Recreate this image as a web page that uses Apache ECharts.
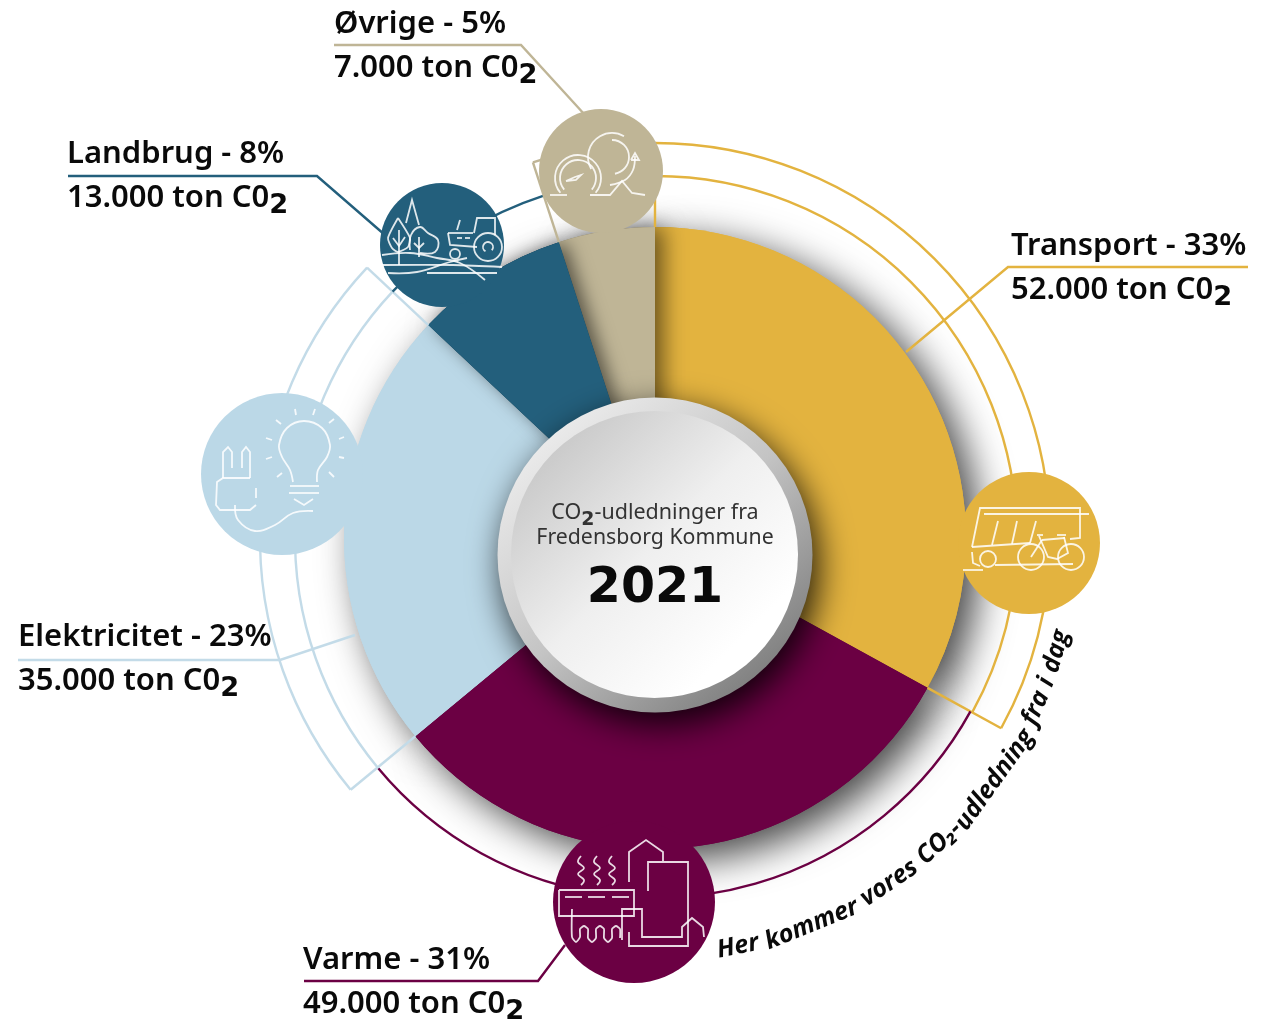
<!DOCTYPE html>
<html>
<head>
<meta charset="utf-8">
<style>
    html, body { margin: 0; padding: 0; background: #fff; }
    #main { width: 1273px; height: 1019px; }
</style>
<script src="https://cdn.jsdelivr.net/npm/echarts@6/dist/echarts.min.js"></script>
</head>
<body>
<div id="main"></div>
<script>
    // data
    var names = ['Transport', 'Varme', 'Elektricitet', 'Landbrug', 'Øvrige'];
    var percents = [33, 31, 23, 8, 5];
    var tonLabels = ['52.000', '49.000', '35.000', '13.000', '7.000'];
    var colors = ['#e3b33f', '#6b0043', '#bbd8e7', '#235f7c', '#bfb596'];
    var arcColors = ['#e3b33f', '#6b0043', '#c3dbe8', '#235f7c', '#bfb596'];

    var FONT = '"Noto Sans", sans-serif';
    var CX = 655, CY = 538, R = 311;

    // ring lines around each slice: radii, and which radial ends are drawn
    var ringRadii = [[362, 395], [360], [360, 395], [360], [395]];
    var ringEnds = [[true, true], [false, false], [true, true], [false, false], [true, false]];

    // label placement: text left, line 1 centre y, line 2 centre y, leader points
    var labelX = [1011, 303, 18, 67, 334];
    var labelY = [[245, 289], [959, 1003], [636, 680], [153, 197], [23, 67]];
    var leaders = [
        [[1248, 267], [1008, 267], [906, 352]],
        [[304, 981], [538, 981], [565, 945]],
        [[18, 660], [280, 660], [355, 635]],
        [[68, 176], [317, 176], [385, 235]],
        [[334, 45], [521, 45], [585, 115]]
    ];
    var iconCircles = [[1029, 543, 71], [634, 902, 81], [282, 474, 81], [442, 245, 62], [601, 171, 62]];

    var graphics = [];
    var zNow = 10;

    function polar(deg, r) {
        var a = (deg - 90) * Math.PI / 180;
        return [CX + r * Math.cos(a), CY + r * Math.sin(a)];
    }
    function lineEl(pts, color, width, smooth) {
        graphics.push({
            type: 'polyline', silent: true, z: zNow,
            shape: { points: pts, smooth: smooth || 0 },
            style: { stroke: color, lineWidth: width, fill: null }
        });
    }
    function arcEl(cx, cy, r, a0, a1, color, width) {
        graphics.push({
            type: 'arc', silent: true, z: zNow,
            shape: { cx: cx, cy: cy, r: r, startAngle: a0 * Math.PI / 180, endAngle: a1 * Math.PI / 180, clockwise: true },
            style: { stroke: color, lineWidth: width, fill: null }
        });
    }
    function circleEl(cx, cy, r, fill, stroke, width) {
        graphics.push({
            type: 'circle', silent: true, z: zNow,
            shape: { cx: cx, cy: cy, r: r },
            style: { fill: fill, stroke: stroke || null, lineWidth: width || 0 }
        });
    }

    // ring lines, worked out from the slice angles
    var total = 0, i;
    for (i = 0; i < percents.length; i++) total += percents[i];
    var angle = 0;
    for (i = 0; i < names.length; i++) {
        var next = angle + percents[i] / total * 360;
        ringRadii[i].forEach(function (r) {
            arcEl(CX, CY, r, angle - 90, next - 90, arcColors[i], 2.4);
        });
        var far = Math.max.apply(null, ringRadii[i]);
        if (ringEnds[i][0]) lineEl([polar(angle, R), polar(angle, far)], arcColors[i], 2.4);
        if (ringEnds[i][1]) lineEl([polar(next, R), polar(next, far)], arcColors[i], 2.4);
        angle = next;
    }

    // leaders
    zNow = 11;
    for (i = 0; i < leaders.length; i++) lineEl(leaders[i], arcColors[i], 2.4);

    // icon discs
    zNow = 12;
    for (i = 0; i < iconCircles.length; i++) circleEl(iconCircles[i][0], iconCircles[i][1], iconCircles[i][2], colors[i]);

    // line drawings inside the discs
    zNow = 13;
    var INK = 'rgba(255,255,255,0.85)';
    function ink(pts, smooth) { lineEl(pts, INK, 1.8, smooth); }
    function inkArc(cx, cy, r, a0, a1) { arcEl(cx, cy, r, a0, a1, INK, 1.8); }
    function inkCircle(cx, cy, r) { circleEl(cx, cy, r, 'transparent', INK, 1.8); }

    // transport
    ink([[972, 547], [980, 508], [1080, 508], [1080, 538], [1070, 539]]);
    ink([[984, 514], [1089, 514]]);
    ink([[998, 521], [992, 545]]); ink([[1017, 521], [1012, 544]]); ink([[1036, 521], [1030, 543]]);
    ink([[972, 547], [1030, 543]]);
    ink([[972, 552], [973, 563], [980, 566]]);
    inkCircle(988, 559, 8);
    ink([[995, 565], [1073, 564]]);
    ink([[963, 570], [983, 570]]);
    inkCircle(1031, 557, 13); inkCircle(1071, 557, 13);
    ink([[1037, 535], [1043, 535]]); ink([[1057, 535], [1066, 535]]);
    ink([[1039, 536], [1048, 557], [1057, 559], [1068, 553], [1064, 537]]);
    ink([[1042, 540], [1065, 538]]); ink([[1031, 557], [1042, 540]]);

    // varme
    [581, 597, 612].forEach(function (x) {
        ink([[x, 856], [x - 3, 862], [x + 3, 868], [x - 3, 874], [x + 3, 880], [x, 885]], 0.4);
    });
    ink([[559, 890], [634, 890], [634, 916], [559, 916], [559, 890]]);
    ink([[565, 897], [582, 897]]); ink([[588, 897], [605, 897]]); ink([[612, 897], [629, 897]]);
    ink([[572, 909], [572, 937], [576, 942], [580, 937], [580, 929], [584, 926], [588, 929], [588, 938], [592, 942], [596, 938], [596, 929], [600, 926], [604, 929], [604, 938], [608, 942], [612, 938], [612, 929], [616, 926], [620, 929], [620, 938]], 0.2);
    ink([[622, 940], [622, 909], [642, 909], [642, 937], [682, 937], [682, 927], [692, 918], [703, 927], [704, 937]]);
    ink([[629, 932], [629, 946], [688, 946], [688, 862], [648, 862], [648, 891]]);
    ink([[629, 882], [629, 852], [646, 840], [663, 852], [663, 861]]);

    // elektricitet
    ink([[293, 482], [290, 470], [282, 457], [279, 445], [287, 428], [304, 421], [322, 428], [330, 445], [327, 457], [318, 470], [317, 482]], 0.35);
    ink([[290, 486], [319, 486]]); ink([[289, 493], [319, 493]]);
    ink([[294, 499], [304, 505], [313, 499]]);
    [[295, 409, 296, 415], [315, 409, 313, 415], [276, 420, 281, 424], [334, 419, 329, 423], [266, 438, 272, 440],
     [344, 437, 339, 439], [266, 459, 272, 457], [344, 458, 339, 457], [277, 477, 282, 473], [334, 477, 329, 472]].forEach(function (s) {
        ink([[s[0], s[1]], [s[2], s[3]]]);
    });
    ink([[223, 478], [223, 452], [228, 447], [232, 452], [232, 468]]);
    ink([[242, 468], [242, 452], [246, 447], [250, 452], [250, 478]]);
    ink([[250, 478], [223, 478], [217, 482], [216, 505], [220, 510], [250, 510], [256, 505]]);
    ink([[256, 488], [256, 498]]);
    ink([[235, 505], [238, 520], [255, 531], [275, 525], [293, 513], [313, 511]], 0.4);

    // landbrug
    ink([[406, 223], [412, 200], [419, 225]]);
    ink([[398, 218], [388, 238], [392, 248], [398, 252], [408, 247], [410, 238], [398, 218]], 0.2);
    ink([[399, 230], [399, 265]]); ink([[393, 238], [399, 246], [405, 237]]);
    ink([[410, 250], [411, 235], [420, 227], [428, 233], [438, 240], [435, 252], [420, 253]], 0.4);
    ink([[419, 237], [419, 257]]); ink([[414, 243], [419, 248], [424, 243]]);
    ink([[382, 255], [410, 253], [437, 258], [460, 263], [485, 280]], 0.4);
    ink([[383, 265], [453, 265], [502, 267]], 0.3);
    ink([[388, 273], [417, 272], [450, 262], [467, 258]], 0.4);
    ink([[427, 273], [497, 273]]);
    inkCircle(488, 247, 14); inkArc(488, 247, 5, 120, 400);
    inkCircle(455, 254, 5);
    ink([[474, 233], [477, 218], [495, 218], [495, 235]]);
    ink([[448, 233], [473, 233]]); ink([[448, 233], [450, 245], [477, 247]]);
    ink([[460, 220], [457, 230]]);
    ink([[457, 238], [462, 238]]); ink([[465, 238], [470, 238]]);

    // øvrige
    inkArc(578, 178, 23, 140, 400); inkArc(578, 178, 18, 140, 400);
    ink([[550, 195], [567, 195]]); ink([[590, 195], [610, 195], [622, 181], [632, 193], [645, 195]]);
    ink([[566, 181], [575, 177], [581, 175], [576, 180], [566, 181]]);
    inkArc(612, 157, 24, 150, 300); inkArc(612, 157, 17, 270, 440);
    ink([[610, 185], [625, 180], [633, 170], [635, 156]], 0.4);
    ink([[631, 160], [635, 153], [639, 160], [631, 160]]);

    // centre disc
    zNow = 20;
    graphics.push({
        type: 'circle', silent: true, z: zNow,
        shape: { cx: 655, cy: 555, r: 157.5 },
        style: {
            fill: { type: 'linear', x: 0.15, y: 0.1, x2: 0.85, y2: 0.9,
                colorStops: [{ offset: 0, color: '#ececec' }, { offset: 0.5, color: '#c4c4c4' }, { offset: 1, color: '#7e7e7e' }] },
            shadowColor: 'rgba(0,0,0,0.85)', shadowBlur: 34, shadowOffsetX: 6, shadowOffsetY: 12
        }
    });
    zNow = 21;
    graphics.push({
        type: 'circle', silent: true, z: zNow,
        shape: { cx: 654.5, cy: 554.5, r: 143.5 },
        style: {
            fill: { type: 'linear', x: 0.1, y: 0.1, x2: 0.8, y2: 0.8,
                colorStops: [{ offset: 0, color: '#c6c6c6' }, { offset: 0.55, color: '#efefef' }, { offset: 1, color: '#ffffff' }] }
        }
    });

    // texts
    zNow = 30;
    function subRich(size, weight, color) {
        return {
            a: { fontFamily: FONT, fontSize: size, fontWeight: weight, fill: color, lineHeight: size + 6, verticalAlign: 'top' },
            s: { fontFamily: '"DejaVu Sans", sans-serif', fontSize: size * 0.88, fontWeight: 'bold', fill: color, lineHeight: size * 0.7, verticalAlign: 'bottom' }
        };
    }
    function textEl(x, y, text, font, color, align) {
        graphics.push({
            type: 'text', silent: true, z: zNow, x: x, y: y,
            style: { text: text, font: font, fill: color, align: align || 'left', verticalAlign: 'middle' }
        });
    }
    function subEl(x, y, text, size, weight, color, align) {
        graphics.push({
            type: 'text', silent: true, z: zNow, x: x, y: y,
            style: { text: text, rich: subRich(size, weight, color), align: align || 'left', verticalAlign: 'middle' }
        });
    }
    for (i = 0; i < names.length; i++) {
        textEl(labelX[i], labelY[i][0] + 1, names[i] + ' - ' + percents[i] + '%', '600 31px ' + FONT, '#0a0a0a');
        subEl(labelX[i], labelY[i][1] + 4, '{a|' + tonLabels[i] + ' ton C0}{s|2}', 31, 600, '#0a0a0a');
    }
    subEl(655, 516, '{a|CO}{s|2}{a|-udledninger fra}', 21.5, 'normal', '#333', 'center');
    textEl(655, 538, 'Fredensborg Kommune', 'normal 21.3px ' + FONT, '#333', 'center');
    textEl(655, 589, '2021', 'bold 49px "DejaVu Sans", sans-serif', '#0a0a0a', 'center');

    // curved caption, word by word along a circle round the pie
    var captionWords = ['Her', 'kommer', 'vores', 'CO₂-', 'udledning', 'fra', 'i', 'dag'];
    var captionGaps = [7, 7, 7, 0, 7, 7, 7];
    var captionFont = 'italic bold 25px "Open Sans", sans-serif';
    var ctx = document.createElement('canvas').getContext('2d');
    ctx.font = captionFont;
    var widths = captionWords.map(function (w) { return ctx.measureText(w).width; });
    var sumWidth = 0;
    widths.forEach(function (w, k) { sumWidth += w + (captionGaps[k] || 0); });
    var CAP_R = 417, CAP_START = 171.4, CAP_END = 102.8;
    var degPerPx = (CAP_START - CAP_END) / sumWidth;
    var pos = 0;
    captionWords.forEach(function (w, k) {
        var theta = CAP_START - (pos + widths[k] / 2) * degPerPx;
        var p = polar(theta, CAP_R);
        graphics.push({
            type: 'text', silent: true, z: zNow, x: p[0], y: p[1],
            rotation: (180 - theta) * Math.PI / 180,
            style: { text: w, font: captionFont, fill: '#0a0a0a', align: 'center', verticalAlign: 'middle' }
        });
        pos += widths[k] + (captionGaps[k] || 0);
    });

    // pie layers: soft shadow under everything, flat slices, then the two that throw a shadow sideways
    function sliceData(show, shadow) {
        return names.map(function (n, k) {
            var on = show === null || show.indexOf(k) >= 0;
            var style = { color: on ? colors[k] : 'transparent' };
            if (on && shadow) {
                style.shadowColor = shadow[0];
                style.shadowBlur = shadow[1];
                style.shadowOffsetX = shadow[2];
                style.shadowOffsetY = shadow[3];
            }
            return { name: n, value: percents[k], itemStyle: style };
        });
    }
    function pieLayer(z, data) {
        return {
            type: 'pie', z: z, silent: true, animation: false,
            center: [CX, CY], radius: [0, R], startAngle: 90, clockwise: true,
            label: { show: false }, labelLine: { show: false },
            emphasis: { disabled: true },
            data: data
        };
    }

    var myChart = echarts.init(document.getElementById('main'), null, { renderer: 'canvas' });
    myChart.setOption({
        animation: false,
        backgroundColor: '#ffffff',
        tooltip: { show: false },
        graphic: { elements: graphics },
        series: [
            pieLayer(1, sliceData(null, ['rgba(0,0,0,0.72)', 38, 14, 12])),
            pieLayer(2, sliceData(null, null)),
            pieLayer(3, sliceData([4], ['rgba(0,0,0,0.55)', 22, 8, 0])),
            pieLayer(4, sliceData([3], ['rgba(0,0,0,0.55)', 18, 6, 0]))
        ]
    });
</script>
</body>
</html>
